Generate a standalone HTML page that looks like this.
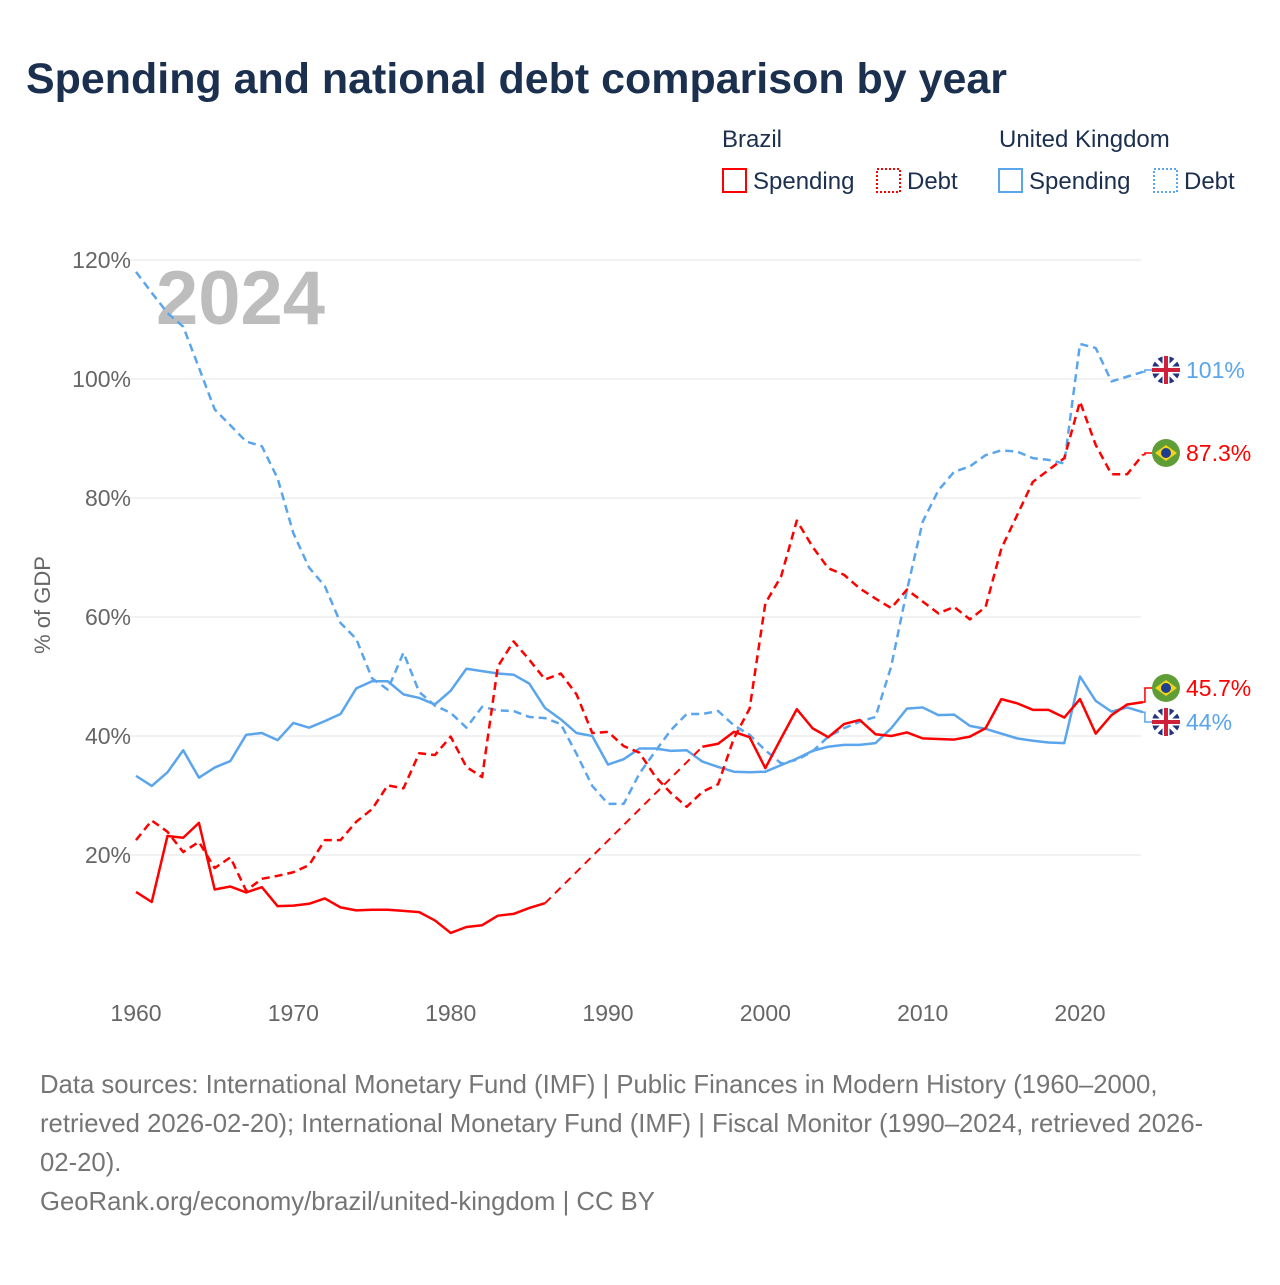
<!DOCTYPE html>
<html><head><meta charset="utf-8"><style>
body{margin:0;background:#fff;font-family:"Liberation Sans",sans-serif;}
svg text{font-family:"Liberation Sans",sans-serif;}
</style></head><body>
<svg id="chart" width="1280" height="1280" viewBox="0 0 1280 1280" xmlns="http://www.w3.org/2000/svg">
<rect width="1280" height="1280" fill="#fff"/>
<text x="26" y="93" font-size="43" font-weight="bold" fill="#1b2f4e" textLength="981" lengthAdjust="spacingAndGlyphs">Spending and national debt comparison by year</text>
<g font-size="24" fill="#1b2f4e">
<text x="722" y="147">Brazil</text>
<text x="999" y="147">United Kingdom</text>
<g><rect x="723" y="169" width="23" height="23" fill="none" stroke="#f00" stroke-width="2"/><text x="753" y="189">Spending</text></g>
<g><rect x="877" y="169" width="23" height="23" fill="none" stroke="#f00" stroke-width="2" stroke-dasharray="2,2"/><text x="907" y="189">Debt</text></g>
<g><rect x="999" y="169" width="23" height="23" fill="none" stroke="#5aa5ec" stroke-width="2"/><text x="1029" y="189">Spending</text></g>
<g><rect x="1154" y="169" width="23" height="23" fill="none" stroke="#5aa5ec" stroke-width="2" stroke-dasharray="2,2"/><text x="1184" y="189">Debt</text></g>
</g>
<text x="156" y="324" font-size="76" font-weight="bold" fill="#bdbdbd">2024</text>
<g id="grid"></g>
<g id="axes"></g>
<text transform="translate(50,605) rotate(-90)" text-anchor="middle" font-size="22" fill="#666">% of GDP</text>
<g id="series"></g>
<g id="labels"></g>
<g font-size="25.7" fill="#757575">
<text x="40" y="1093">Data sources: International Monetary Fund (IMF) | Public Finances in Modern History (1960–2000,</text>
<text x="40" y="1132">retrieved 2026-02-20); International Monetary Fund (IMF) | Fiscal Monitor (1990–2024, retrieved 2026-</text>
<text x="40" y="1171">02-20).</text>
<text x="40" y="1210">GeoRank.org/economy/brazil/united-kingdom | CC BY</text>
</g>
</svg>
<script>
const years=[];for(let y=1960;y<=2024;y++)years.push(y);
const yTicks=[20,40,60,80,100,120];
const xTicks=[1960,1970,1980,1990,2000,2010,2020];
const brSpending=[13.8,12.1,23.2,22.9,25.4,14.2,14.7,13.7,14.6,11.4,11.5,11.8,12.7,11.2,10.7,10.8,10.8,10.6,10.4,9.0,6.9,7.9,8.2,9.8,10.1,11.1,11.9,null,null,null,null,null,null,null,null,null,38.2,38.7,40.7,39.8,34.6,39.6,44.5,41.3,39.8,42.0,42.7,40.3,40.0,40.6,39.6,39.5,39.4,39.9,41.3,46.2,45.5,44.4,44.4,43.1,46.2,40.4,43.5,45.3,45.7];
const brDebt=[22.5,25.8,23.9,20.5,22.2,17.8,19.6,14.0,16.0,16.5,17.1,18.3,22.5,22.5,25.6,27.7,31.7,31.2,37.1,36.8,39.9,34.8,33.1,51.7,55.9,52.8,49.5,50.5,47.0,40.5,40.7,38.3,37.2,33.2,30.4,28.1,30.6,31.9,39.6,44.6,62.3,66.8,76.2,71.8,68.2,67.1,64.8,63.1,61.5,64.6,62.6,60.6,61.7,59.6,61.7,71.5,77.1,82.7,84.7,86.7,96.2,88.9,84.0,84.0,87.3];
const ukSpending=[33.3,31.6,33.9,37.6,33.0,34.7,35.8,40.2,40.5,39.3,42.2,41.4,42.5,43.7,48.0,49.2,49.2,47.0,46.4,45.3,47.6,51.3,50.9,50.5,50.3,48.8,44.7,42.8,40.5,40.0,35.2,36.1,37.9,37.9,37.5,37.6,35.7,34.8,34.0,33.9,34.0,35.1,36.2,37.5,38.2,38.5,38.5,38.8,41.3,44.6,44.8,43.5,43.6,41.7,41.2,40.4,39.6,39.2,38.9,38.8,50.0,45.9,44.1,44.8,44.0];
const ukDebt=[118.0,114.5,111.1,108.8,101.9,94.9,92.2,89.5,88.7,83.3,74.1,68.3,65.2,59.0,56.3,49.7,47.8,54.0,47.4,45.1,43.9,41.4,44.9,44.3,44.2,43.2,43.0,42.0,37.0,31.6,28.6,28.6,33.7,37.4,41.0,43.7,43.7,44.2,41.8,40.2,37.6,35.4,36.0,37.4,39.9,41.3,42.4,43.2,51.7,64.5,76.0,81.3,84.4,85.3,87.2,88.0,87.8,86.7,86.4,85.8,105.9,105.2,99.6,100.4,101.2];
const NS="http://www.w3.org/2000/svg";
const X=y=>136+(y-1960)*(1080-136)/60;
const Y=v=>974-v*5.95;
function mk(tag,attrs,parent){const e=document.createElementNS(NS,tag);for(const k in attrs)e.setAttribute(k,attrs[k]);parent.appendChild(e);return e;}
const grid=document.getElementById('grid'),axes=document.getElementById('axes'),ser=document.getElementById('series'),lab=document.getElementById('labels');
yTicks.forEach(t=>{
 const l=mk('line',{x1:130,x2:1141,y1:Y(t),y2:Y(t),stroke:'#e6e6e6','stroke-width':1},grid);
 
 
 const tx=mk('text',{x:131,y:Y(t)+8,'text-anchor':'end','font-size':23,fill:'#666'},axes);
 tx.textContent=t+'%';
 
 
});
xTicks.forEach(t=>{
 const tx=mk('text',{x:X(t),y:1021,'text-anchor':'middle','font-size':23,fill:'#666'},axes);
 tx.textContent=t;
 
 
});
function draw(vals,color,dash,name){
 let segs=[],cur=[];
 vals.forEach((v,i)=>{if(v==null){if(cur.length)segs.push(cur);cur=[];}else cur.push([X(years[i]),Y(v)]);});
 if(cur.length)segs.push(cur);
 segs.forEach((s,k)=>{
  const p=mk('polyline',{points:s.map(q=>q.join(',')).join(' '),fill:'none',stroke:color,'stroke-width':2.5,'stroke-linejoin':'round','stroke-dasharray':dash},ser);
  
  
  if(k>0){const a=segs[k-1][segs[k-1].length-1],b=s[0];
   const g=mk('line',{x1:a[0],y1:a[1],x2:b[0],y2:b[1],stroke:color,'stroke-width':2,'stroke-dasharray':'8,6'},ser);
   
   }
 });
}
draw(ukDebt,'#5aa5ec','8,5','uk-debt-line');
draw(ukSpending,'#5aa5ec','none','uk-spending-line');
draw(brDebt,'#f00','8,5','brazil-debt-line');
draw(brSpending,'#f00','none','brazil-spending-line');
function flag(cx,cy,br,name){
 const g=mk('g',{},lab);
 
 
 if(br){mk('circle',{cx,cy,r:14,fill:'#5f9e37'},g);
  mk('polygon',{points:`${cx-11},${cy} ${cx},${cy-8} ${cx+11},${cy} ${cx},${cy+8}`,fill:'#f5d31b'},g);
  mk('circle',{cx,cy,r:5,fill:'#1d3f8f'},g);}
 else{mk('circle',{cx,cy,r:14,fill:'#21357e'},g);
  mk('line',{x1:cx-10,y1:cy-10,x2:cx+10,y2:cy+10,stroke:'#fff','stroke-width':4},g);
  mk('line',{x1:cx-10,y1:cy+10,x2:cx+10,y2:cy-10,stroke:'#fff','stroke-width':4},g);
  mk('rect',{x:cx-14,y:cy-3.5,width:28,height:7,fill:'#fff'},g);
  mk('rect',{x:cx-3.5,y:cy-14,width:7,height:28,fill:'#fff'},g);
  mk('rect',{x:cx-14,y:cy-2,width:28,height:4,fill:'#d0213a'},g);
  mk('rect',{x:cx-2,y:cy-14,width:4,height:28,fill:'#d0213a'},g);}
}
const endLabels=[[ukDebt,'#5aa5ec',370,false,'101%','uk-debt-end-label'],[brDebt,'#f00',453,true,'87.3%','brazil-debt-end-label'],[brSpending,'#f00',688,true,'45.7%','brazil-spending-end-label'],[ukSpending,'#5aa5ec',722,false,'44%','uk-spending-end-label']];
endLabels.forEach(([arr,c,ly,br,txt,name])=>{
 const x0=X(2024),y0=Y(arr[arr.length-1]);
 const p=mk('polyline',{points:`${x0},${y0} ${x0+2},${y0} ${x0+2},${ly} ${x0+10},${ly}`,fill:'none',stroke:c,'stroke-width':1.5},lab);
 
 
 flag(1166,ly,br,name+'-flag');
 const t=mk('text',{x:1186,y:ly+8,'font-size':23,fill:c},lab);
 t.textContent=txt;
 
 
});
</script>
</body></html>
